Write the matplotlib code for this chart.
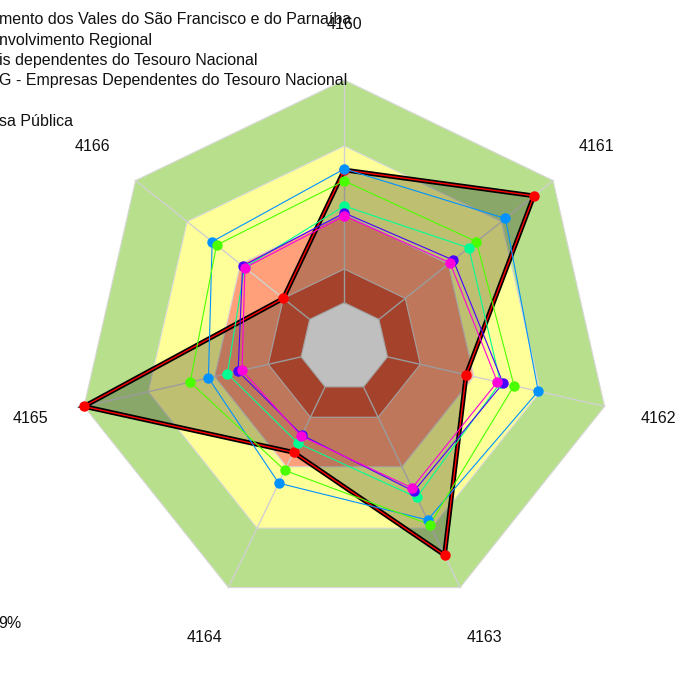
import numpy as np
import matplotlib
matplotlib.use("Agg")
import matplotlib.pyplot as plt

plt.rcParams["font.family"] = ["Liberation Sans", "DejaVu Sans"]

# axes of the radar, clockwise from the top
axis_labels = ["4160", "4161", "4162", "4163", "4164", "4165", "4166"]

# background bands (outer radius, fraction of the full scale)
band_edges = [1.0, 0.753, 0.498, 0.292, 0.166]
band_colors = ["#B8E08C", "#FFFF99", "#FFA07A", "#DC593C", "#FFFFFF"]

# series values (fraction of the full scale)
s_red = [0.663, 0.908, 0.468, 0.865, 0.438, 1.0, 0.292]
s_blue = [0.667, 0.772, 0.745, 0.719, 0.566, 0.522, 0.633]
s_green = [0.622, 0.633, 0.652, 0.738, 0.513, 0.592, 0.612]
s_spring = [0.528, 0.596, 0.600, 0.625, 0.400, 0.449, 0.478]
s_violet = [0.502, 0.522, 0.610, 0.600, 0.366, 0.408, 0.487]
s_magenta = [0.491, 0.506, 0.588, 0.586, 0.371, 0.393, 0.476]

thin_series = [
    (s_blue, "#0092FF"),
    (s_green, "#49FF00"),
    (s_spring, "#00FF92"),
    (s_violet, "#4900FF"),
    (s_magenta, "#FF00DB"),
]

legend_texts = [
    "mento dos Vales do São Francisco e do Parnaíba",
    "nvolvimento Regional",
    "is dependentes do Tesouro Nacional",
    "G - Empresas Dependentes do Tesouro Nacional",
    "",
    "sa Pública",
]

n = len(axis_labels)
theta = np.pi / 2 - np.arange(n) * 2 * np.pi / n


def xy(vals):
    v = np.asarray(vals, dtype=float)
    x = v * np.cos(theta)
    y = v * np.sin(theta)
    return np.append(x, x[0]), np.append(y, y[0])


fig = plt.figure(figsize=(6.78, 6.75), dpi=100)
ax = fig.add_axes([0, 0, 1, 1])
ax.set_xlim(-1.2895, 1.2498)
ax.set_ylim(-1.2285, 1.2996)
ax.axis("off")

# bands
for r, c in zip(band_edges, band_colors):
    bx, by = xy([r] * n)
    ax.fill(bx, by, color=c, ec="#D8D8D8", lw=0.8, zorder=1)

# spokes
for t in theta:
    ax.plot([band_edges[-1] * np.cos(t), np.cos(t)],
            [band_edges[-1] * np.sin(t), np.sin(t)],
            color="#D0D0D0", lw=1, zorder=2)

# highlighted series
rx, ry = xy(s_red)
ax.fill(rx, ry, color="black", alpha=0.25, lw=0, zorder=3)
ax.plot(rx, ry, color="black", lw=3.4, zorder=4, solid_joinstyle="miter")
ax.plot(rx, ry, color="#FF0000", lw=1.0, zorder=5)
ax.plot(rx[:-1], ry[:-1], "o", color="#FF0000", ms=6.5, zorder=6)

for vals, col in thin_series:
    sx, sy = xy(vals)
    ax.plot(sx, sy, color=col, lw=0.8, zorder=7)
    ax.plot(sx[:-1], sy[:-1], "o", color=col, ms=6.5, zorder=8)

# axis labels
for lab, t in zip(axis_labels, theta):
    ax.text(1.206 * np.cos(t), 1.206 * np.sin(t), lab, ha="center", va="center",
            fontsize=11.5, color="#111111", zorder=9)

# legend (cut at the left edge)
for i, txt in enumerate(legend_texts):
    y_px = 20 + 20 * i + (2 if i == 5 else 0)
    fig.text(-0.002, 1 - y_px / 675, txt, ha="left", va="center",
             fontsize=11.5, color="#111111")

fig.text(-0.002, 1 - 624 / 675, "9%", ha="left", va="center",
         fontsize=11.5, color="#111111")

fig.savefig("out.png", dpi=100)
